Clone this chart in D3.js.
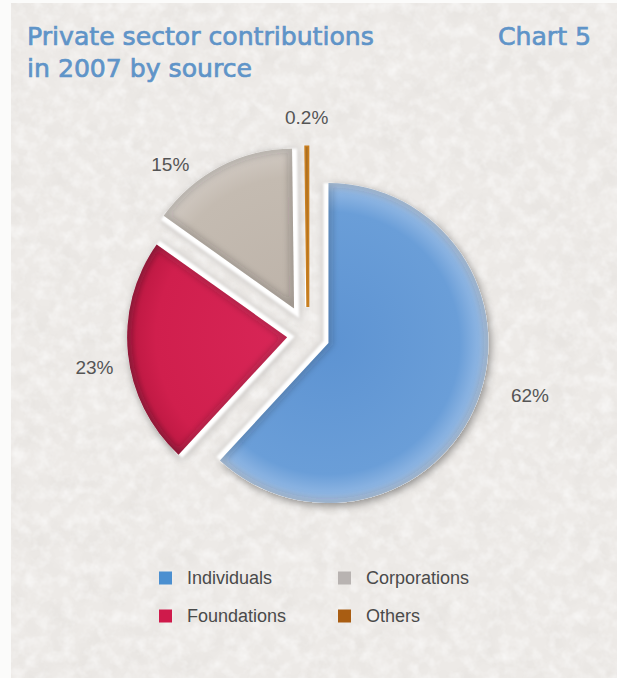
<!DOCTYPE html>
<html>
<head>
<meta charset="utf-8">
<script src="https://cdn.jsdelivr.net/npm/d3@7"></script>
<style>
  html, body { margin: 0; padding: 0; background: #ffffff; }
  svg { display: block; }
</style>
</head>
<body>
<svg id="chart" width="617" height="678"></svg>
<script>
// ---- data ----
const categories   = ["Individuals", "Foundations", "Corporations", "Others"];
const shares       = [62, 23, 15, 0.2];
const shareLabels  = ["62%", "23%", "15%", "0.2%"];
const legendOrder  = ["Individuals", "Corporations", "Foundations", "Others"];
const titleLines   = ["Private sector contributions", "in 2007 by source"];
const chartTag     = "Chart 5";

// ---- styling ----
const sliceColors = {
  Individuals:  { stops: ["#5d93d2", "#6a9ed8", "#8cb4e2", "#b8d0ec"], key: "#4b8fd0" },
  Foundations:  { stops: ["#d82657", "#d01f4d", "#c21a45", "#a3163b"], key: "#cf1a4b" },
  Corporations: { stops: ["#bdb3a9", "#c4bbb1", "#cdc5bd", "#d8d2cb"], key: "#b8b3b1" },
  Others:       { stops: ["#c47a1c", "#c97f20", "#cf8a2c", "#d99a45"], key: "#a95d12" }
};
const explodeBy   = { Individuals: 22, Foundations: 21, Corporations: 30, Others: 28 };
// label placement: radius from the slice apex and a small angular nudge (degrees)
const labelRadius = { Individuals: 208, Foundations: 195, Corporations: 190, Others: 190 };
const labelNudge  = { Individuals: -7, Foundations: -3, Corporations: -13, Others: 0 };

const W = 617, H = 678;
const radius = 160;
const center = [308, 335];

const svg = d3.select("#chart");
const defs = svg.append("defs");

// paper grain
const paper = defs.append("filter").attr("id", "paper")
  .attr("x", 0).attr("y", 0).attr("width", 1).attr("height", 1);
paper.append("feTurbulence").attr("type", "fractalNoise")
  .attr("baseFrequency", "0.04").attr("numOctaves", 4).attr("seed", 7);
paper.append("feColorMatrix").attr("type", "matrix")
  .attr("values", "0 0 0 0 0.62  0 0 0 0 0.60  0 0 0 0 0.57  0.35 0 0 0 -0.14");

const paperLight = defs.append("filter").attr("id", "paperLight")
  .attr("x", 0).attr("y", 0).attr("width", 1).attr("height", 1);
paperLight.append("feTurbulence").attr("type", "fractalNoise")
  .attr("baseFrequency", "0.08").attr("numOctaves", 3).attr("seed", 21);
paperLight.append("feColorMatrix").attr("type", "matrix")
  .attr("values", "0 0 0 0 1  0 0 0 0 1  0 0 0 0 1  1.1 0 0 0 -0.45");

// drop shadow under each slice
const shadow = defs.append("filter").attr("id", "shadow")
  .attr("x", "-20%").attr("y", "-20%").attr("width", "140%").attr("height", "140%");
shadow.append("feGaussianBlur").attr("in", "SourceAlpha").attr("stdDeviation", 4).attr("result", "b");
shadow.append("feOffset").attr("in", "b").attr("dx", 2).attr("dy", 3).attr("result", "o");
shadow.append("feComponentTransfer").attr("in", "o").attr("result", "s")
  .append("feFuncA").attr("type", "linear").attr("slope", 0.4);
const sm = shadow.append("feMerge");
sm.append("feMergeNode").attr("in", "s");
sm.append("feMergeNode").attr("in", "SourceGraphic");

// soft blur for bevels
defs.append("filter").attr("id", "soft")
  .attr("x", "-20%").attr("y", "-20%").attr("width", "140%").attr("height", "140%")
  .append("feGaussianBlur").attr("stdDeviation", 3);
defs.append("filter").attr("id", "softer")
  .attr("x", "-20%").attr("y", "-20%").attr("width", "140%").attr("height", "140%")
  .append("feGaussianBlur").attr("stdDeviation", 1.2);

// ---- background ----
svg.append("rect").attr("x", 0).attr("y", 0).attr("width", W).attr("height", H).attr("fill", "#fbfbfa");
svg.append("rect").attr("x", 11).attr("y", 3).attr("width", W - 11).attr("height", H - 3).attr("fill", "#edeae7");
svg.append("rect").attr("x", 11).attr("y", 3).attr("width", W - 11).attr("height", H - 3)
  .attr("fill", "#000").attr("filter", "url(#paper)");
svg.append("rect").attr("x", 11).attr("y", 3).attr("width", W - 11).attr("height", H - 3)
  .attr("fill", "#000").attr("filter", "url(#paperLight)");

// ---- title ----
const titleColor = "#5f94c8";
const titleFont = "'DejaVu Sans', Verdana, sans-serif";

function fitWidth(sel, target) {
  const w = sel.node().getComputedTextLength();
  const fs = parseFloat(sel.attr("font-size"));
  sel.attr("font-size", (fs * target / w).toFixed(2));
}

function titleText(x, y, s, anchor) {
  return svg.append("text").attr("x", x).attr("y", y).attr("text-anchor", anchor)
    .attr("font-family", titleFont).attr("font-size", 21)
    .attr("fill", titleColor).attr("stroke", titleColor).attr("stroke-width", 0.7)
    .attr("paint-order", "stroke").text(s);
}
const t1 = titleText(27, 45, titleLines[0], "start");
fitWidth(t1, 347);
const fsTitle = t1.attr("font-size");
titleText(27, 77, titleLines[1], "start").attr("font-size", fsTitle);
titleText(591, 45, chartTag, "end").attr("font-size", fsTitle);

// ---- pie ----
const rows = categories.map((c, i) => ({ category: c, value: shares[i], label: shareLabels[i] }));
const pie = d3.pie().sort(null).value(d => d.value).startAngle(0).endAngle(2 * Math.PI);
const arcs = pie(rows);
const arc = d3.arc().innerRadius(0).outerRadius(radius);

// the two straight edges of a slice, as one open path
function radialEdges(d) {
  const p = d3.path();
  p.moveTo(Math.sin(d.startAngle) * radius, -Math.cos(d.startAngle) * radius);
  p.lineTo(0, 0);
  p.lineTo(Math.sin(d.endAngle) * radius, -Math.cos(d.endAngle) * radius);
  return p.toString();
}

arcs.forEach((a, i) => {
  const g = defs.append("radialGradient").attr("id", "grad-" + i)
    .attr("gradientUnits", "userSpaceOnUse").attr("cx", 0).attr("cy", 0).attr("r", radius);
  const s = sliceColors[a.data.category].stops;
  [[0, s[0]], [0.82, s[1]], [0.94, s[2]], [1, s[3]]].forEach(([o, c]) =>
    g.append("stop").attr("offset", o).attr("stop-color", c));
  defs.append("clipPath").attr("id", "clip-" + i).append("path").attr("d", arc(a));
});

const pieG = svg.append("g").attr("transform", `translate(${center[0]},${center[1]})`);

const sliceG = pieG.selectAll("g.slice").data(arcs).join("g")
  .attr("class", "slice")
  .attr("transform", d => {
    const m = (d.startAngle + d.endAngle) / 2;
    const k = explodeBy[d.data.category];
    return `translate(${Math.sin(m) * k},${-Math.cos(m) * k})`;
  });

// soft shadow under the slice
sliceG.append("path").attr("d", arc)
  .attr("fill", "#ffffff").attr("filter", "url(#shadow)");

// white bevel strip along the straight edges
sliceG.append("path").attr("d", radialEdges)
  .attr("fill", "none").attr("stroke", "#d9d6d3")
  .attr("stroke-width", 16).attr("stroke-linejoin", "miter").attr("filter", "url(#soft)");
sliceG.append("path").attr("d", radialEdges)
  .attr("fill", "none").attr("stroke", "#ffffff")
  .attr("stroke-width", 10).attr("stroke-linejoin", "miter").attr("filter", "url(#softer)");

// coloured face
sliceG.append("path").attr("d", arc)
  .attr("fill", (d, i) => `url(#grad-${i})`)
  .attr("stroke", d => d.endAngle - d.startAngle < 0.05 ? sliceColors[d.data.category].stops[1] : "none")
  .attr("stroke-width", 3);

// inner bevel along the edges
sliceG.append("path").attr("d", arc)
  .attr("fill", "none").attr("stroke", "rgba(40,30,40,0.2)")
  .attr("stroke-width", 9).attr("filter", "url(#soft)")
  .attr("clip-path", (d, i) => `url(#clip-${i})`);

// percentage labels
sliceG.append("text")
  .attr("transform", d => {
    const m = (d.startAngle + d.endAngle) / 2 + labelNudge[d.data.category] * Math.PI / 180;
    const r = labelRadius[d.data.category];
    return `translate(${Math.sin(m) * r},${-Math.cos(m) * r})`;
  })
  .attr("text-anchor", "middle").attr("dy", "0.36em")
  .attr("font-family", "'Liberation Sans', Arial, sans-serif").attr("font-size", 19)
  .attr("fill", "#555555")
  .text(d => d.data.label);

// ---- legend ----
const legendX = [159, 338];
const legendY = [578, 616];
const legend = svg.append("g").selectAll("g").data(legendOrder).join("g")
  .attr("transform", (d, i) => `translate(${legendX[i % 2]},${legendY[Math.floor(i / 2)]})`);
legend.append("rect").attr("x", 0).attr("y", -6.5).attr("width", 13).attr("height", 13)
  .attr("fill", d => sliceColors[d].key);
legend.append("text").attr("x", 28).attr("y", 0).attr("dy", "0.35em")
  .attr("font-family", "'Liberation Sans', Arial, sans-serif").attr("font-size", 18)
  .attr("fill", "#4a4a4a").text(d => d);
</script>
</body>
</html>
